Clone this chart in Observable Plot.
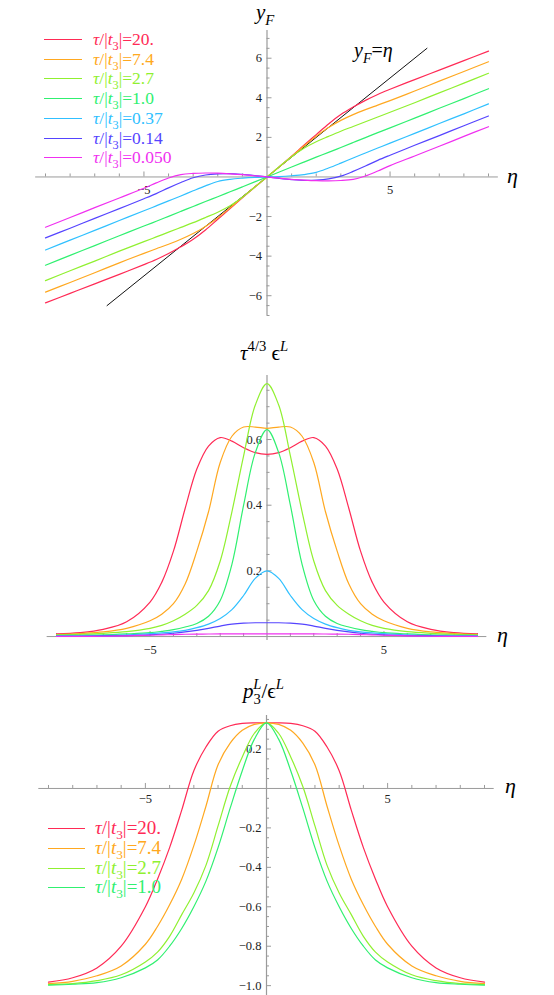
<!DOCTYPE html>
<html><head><meta charset="utf-8">
<script src="https://cdn.jsdelivr.net/npm/d3@7"></script>
<script src="https://cdn.jsdelivr.net/npm/@observablehq/plot@0.6"></script>
<style>
body{margin:0;background:#fff;}
#root{position:relative;width:554px;height:995px;overflow:hidden;background:#fff;font-family:"Liberation Serif",serif;}
</style></head><body><div id="root"></div>
<script>
// eta grid
const eta = [-9,-8,-7,-6,-5,-4.5,-4,-3.5,-3,-2.5,-2,-1.5,-1,-0.5,0,0.5,1,1.5,2,2.5,3,3.5,4,4.5,5,6,7,8,9];

// series labels (tau/|t3|) and colours
const seriesNames = ["20.", "7.4", "2.7", "1.0", "0.37", "0.14", "0.050"];
const seriesColors = ["#ff2a55", "#ffa820", "#90f030", "#30f070", "#30c0ff", "#5544ff", "#f030f0"];

// Panel 1: y_F(eta)
const yF_20   = [-6.36,-5.88,-5.4,-4.92,-4.43,-4.17,-3.87,-3.53,-3.15,-2.68,-2.14,-1.6,-1.05,-0.52,0,0.52,1.05,1.6,2.14,2.68,3.15,3.53,3.87,4.17,4.43,4.92,5.4,5.88,6.36];
const yF_7_4  = [-5.82,-5.33,-4.84,-4.34,-3.86,-3.63,-3.4,-3.15,-2.86,-2.5,-2.06,-1.56,-1.03,-0.51,0,0.51,1.03,1.56,2.06,2.5,2.86,3.15,3.4,3.63,3.86,4.34,4.84,5.33,5.82];
const yF_2_7  = [-5.24,-4.74,-4.25,-3.75,-3.27,-3.03,-2.79,-2.55,-2.31,-2.05,-1.78,-1.45,-1.02,-0.52,0,0.52,1.02,1.45,1.78,2.05,2.31,2.55,2.79,3.03,3.27,3.75,4.25,4.74,5.24];
const yF_1_0  = [-4.46,-3.96,-3.47,-2.97,-2.48,-2.24,-1.99,-1.74,-1.49,-1.24,-1.0,-0.75,-0.5,-0.25,0,0.25,0.5,0.75,1.0,1.24,1.49,1.74,1.99,2.24,2.48,2.97,3.47,3.96,4.46];
const yF_0_37 = [-3.69,-3.19,-2.7,-2.2,-1.71,-1.46,-1.21,-0.96,-0.7,-0.45,-0.23,-0.12,-0.06,-0.02,0,0.02,0.06,0.12,0.23,0.45,0.7,0.96,1.21,1.46,1.71,2.2,2.7,3.19,3.69];
const yF_0_14 = [-3.08,-2.59,-2.09,-1.6,-1.1,-0.84,-0.55,-0.28,-0.04,0.1,0.16,0.17,0.13,0.07,0,-0.07,-0.13,-0.17,-0.16,-0.1,0.04,0.28,0.55,0.84,1.1,1.6,2.09,2.59,3.08];
const yF_0_05 = [-2.54,-2.05,-1.55,-1.06,-0.57,-0.3,-0.05,0.12,0.18,0.2,0.19,0.16,0.12,0.06,0,-0.06,-0.12,-0.16,-0.19,-0.2,-0.18,-0.12,0.05,0.3,0.57,1.06,1.55,2.05,2.54];
const diagEta = [-6.5, 6.5];   // the line y_F = eta

// Panel 2: tau^{4/3} eps^L
const eps_20   = [0.008,0.012,0.022,0.045,0.105,0.165,0.26,0.39,0.51,0.58,0.606,0.595,0.575,0.56,0.555,0.56,0.575,0.595,0.606,0.58,0.51,0.39,0.26,0.165,0.105,0.045,0.022,0.012,0.008];
const eps_7_4  = [0.006,0.009,0.014,0.025,0.048,0.068,0.1,0.16,0.26,0.38,0.53,0.61,0.638,0.638,0.634,0.638,0.638,0.61,0.53,0.38,0.26,0.16,0.1,0.068,0.048,0.025,0.014,0.009,0.006];
const eps_2_7  = [0.005,0.007,0.01,0.015,0.025,0.034,0.048,0.068,0.095,0.14,0.23,0.38,0.55,0.705,0.77,0.705,0.55,0.38,0.23,0.14,0.095,0.068,0.048,0.034,0.025,0.015,0.01,0.007,0.005];
const eps_1_0  = [0.003,0.004,0.005,0.008,0.012,0.016,0.021,0.029,0.04,0.062,0.11,0.22,0.4,0.56,0.63,0.56,0.4,0.22,0.11,0.062,0.04,0.029,0.021,0.016,0.012,0.008,0.005,0.004,0.003];
const eps_0_37 = [0.002,0.002,0.003,0.005,0.009,0.011,0.014,0.019,0.027,0.038,0.055,0.082,0.125,0.177,0.2,0.177,0.125,0.082,0.055,0.038,0.027,0.019,0.014,0.011,0.009,0.005,0.003,0.002,0.002];
const eps_0_14 = [0.001,0.001,0.002,0.003,0.005,0.007,0.01,0.014,0.019,0.025,0.032,0.038,0.041,0.042,0.042,0.042,0.041,0.038,0.032,0.025,0.019,0.014,0.01,0.007,0.005,0.003,0.002,0.001,0.001];
const eps_0_05 = [0.0004,0.0006,0.001,0.002,0.004,0.005,0.006,0.007,0.0075,0.0078,0.008,0.008,0.008,0.008,0.008,0.008,0.008,0.008,0.008,0.0078,0.0075,0.007,0.006,0.005,0.004,0.002,0.001,0.0006,0.0004];

// Panel 3: p3^L / eps^L
const p3_20  = [-0.982,-0.96,-0.91,-0.8,-0.6,-0.46,-0.3,-0.11,0.09,0.21,0.29,0.318,0.33,0.333,0.333,0.333,0.33,0.318,0.29,0.21,0.09,-0.11,-0.3,-0.46,-0.6,-0.8,-0.91,-0.96,-0.982];
const p3_7_4 = [-0.99,-0.978,-0.95,-0.9,-0.79,-0.7,-0.59,-0.46,-0.29,-0.09,0.12,0.23,0.295,0.325,0.333,0.325,0.295,0.23,0.12,-0.09,-0.29,-0.46,-0.59,-0.7,-0.79,-0.9,-0.95,-0.978,-0.99];
const p3_2_7 = [-0.995,-0.99,-0.975,-0.945,-0.88,-0.83,-0.75,-0.64,-0.53,-0.39,-0.19,0.01,0.16,0.28,0.333,0.28,0.16,0.01,-0.19,-0.39,-0.53,-0.64,-0.75,-0.83,-0.88,-0.945,-0.975,-0.99,-0.995];
const p3_1_0 = [-0.997,-0.993,-0.985,-0.96,-0.91,-0.87,-0.8,-0.71,-0.6,-0.47,-0.3,-0.1,0.09,0.25,0.333,0.25,0.09,-0.1,-0.3,-0.47,-0.6,-0.71,-0.8,-0.87,-0.91,-0.96,-0.985,-0.993,-0.997];

// tick values
const xMajorTicks = [-5, 5];
const y1Ticks = [-6, -4, -2, 2, 4, 6];
const y2Ticks = [0.2, 0.4, 0.6];
const y3Ticks = [-1.0, -0.8, -0.6, -0.4, -0.2, 0.2];

const FONT = '"Liberation Serif", serif';
const AXIS = "#9a9a9a";
const xMinorTicks = d3.range(-9, 10).filter(d => d !== 0 && Math.abs(d) !== 5);

function makePanel(cfg) {
  const {series, yDomain, height, ml, mr, mt, mb, yMajor, yMinor, yFmt, xdy, extra = []} = cfg;
  const width = 554;
  const pxY = (height - mt - mb) / (yDomain[1] - yDomain[0]);
  const pxX = (width - ml - mr) / 18;
  const rows = [];
  series.forEach(s => eta.forEach((e, j) => rows.push({eta: e, v: s.values[j], k: s.name})));
  const svg = Plot.plot({
    width, height, marginLeft: ml, marginRight: mr, marginTop: mt, marginBottom: mb,
    x: {domain: [-9, 9], axis: null},
    y: {domain: yDomain, axis: null},
    color: {domain: seriesNames, range: seriesColors},
    style: {fontFamily: FONT, fontSize: "12.5px", background: "none", overflow: "visible"},
    marks: [
      Plot.ruleY([0], {x1: -9.4, x2: 9.4, stroke: AXIS, strokeWidth: 1}),
      Plot.ruleX([0], {y1: yDomain[0], y2: yDomain[1], stroke: AXIS, strokeWidth: 1.2}),
      Plot.ruleX(xMinorTicks, {x: d => d, y1: 0, y2: 3 / pxY, stroke: AXIS}),
      Plot.ruleX(xMajorTicks, {x: d => d, y1: 0, y2: 5 / pxY, stroke: AXIS}),
      Plot.ruleY(yMinor, {y: d => d, x1: 0, x2: 3 / pxX, stroke: AXIS}),
      Plot.ruleY(yMajor, {y: d => d, x1: 0, x2: 5 / pxX, stroke: AXIS}),
      Plot.text(xMajorTicks, {x: d => d, y: 0, dy: xdy, text: d => d3.format("")(d), fill: "#222", fontFamily: FONT}),
      Plot.text(yMajor, {x: 0, y: d => d, dx: -5, textAnchor: "end", text: yFmt, fill: "#222", fontFamily: FONT}),
      ...extra,
      Plot.line(rows, {x: "eta", y: "v", z: "k", stroke: "k", strokeWidth: 1.2, curve: "catmull-rom"})
    ]
  });
  svg.style.position = "absolute";
  svg.style.left = "0px";
  svg.style.top = cfg.top + "px";
  return svg;
}

const root = document.getElementById("root");

root.appendChild(makePanel({
  top: 0, height: 330, ml: 45, mr: 66, mt: 30, mb: 15, yDomain: [-7, 7.4], xdy: 13,
  yMajor: y1Ticks, yMinor: d3.range(-7, 7.01, 0.5).filter(d => d !== 0 && !y1Ticks.includes(d)),
  yFmt: d => d3.format("")(d),
  series: [
    {name: "20.", values: yF_20}, {name: "7.4", values: yF_7_4}, {name: "2.7", values: yF_2_7},
    {name: "1.0", values: yF_1_0}, {name: "0.37", values: yF_0_37}, {name: "0.14", values: yF_0_14},
    {name: "0.050", values: yF_0_05}
  ],
  extra: [Plot.line(diagEta, {x: d => d, y: d => d, stroke: "#111", strokeWidth: 1})]
}));

root.appendChild(makePanel({
  top: 330, height: 330, ml: 56, mr: 77, mt: 45, mb: 20, yDomain: [-0.012, 0.795], xdy: 13,
  yMajor: y2Ticks, yMinor: d3.range(1, 16).map(i => i * 0.05).filter(d => ![4, 8, 12].includes(Math.round(d * 20))),
  yFmt: d => d3.format(".1f")(d),
  series: [
    {name: "20.", values: eps_20}, {name: "7.4", values: eps_7_4}, {name: "2.7", values: eps_2_7},
    {name: "1.0", values: eps_1_0}, {name: "0.37", values: eps_0_37}, {name: "0.14", values: eps_0_14},
    {name: "0.050", values: eps_0_05}
  ]
}));

root.appendChild(makePanel({
  top: 660, height: 335, ml: 48, mr: 70, mt: 55, mb: 0, yDomain: [-1.05, 0.37], xdy: 11,
  yMajor: y3Ticks, yMinor: d3.range(-21, 8).map(i => i * 0.05).filter(d => Math.round(d * 20) % 4 !== 0),
  yFmt: d => d3.format(".1f")(d),
  series: [
    {name: "20.", values: p3_20}, {name: "7.4", values: p3_7_4}, {name: "2.7", values: p3_2_7},
    {name: "1.0", values: p3_1_0}
  ]
}));

// overlay: titles, axis labels, legends
const ov = d3.select(root).append("svg")
  .attr("width", 554).attr("height", 995)
  .style("position", "absolute").style("left", "0px").style("top", "0px")
  .style("pointer-events", "none")
  .style("font-family", FONT);

function rich(x, y, parts, size, fill) {
  const t = ov.append("text").attr("x", x).attr("y", y)
    .style("font-size", size + "px").attr("fill", fill).style("font-family", FONT);
  let shift = 0;
  parts.forEach(p => {
    const target = p.sub ? 0.28 * size : p.sup ? -0.42 * size : 0;
    const ts = t.append("tspan").text(p.t).attr("dy", target - shift);
    if (p.dx) ts.attr("dx", p.dx);
    shift = target;
    if (p.it) ts.style("font-style", "italic");
    if (p.sub || p.sup) ts.style("font-size", (size * 0.7) + "px");
  });
  return t;
}

// panel 1 labels
rich(256, 19, [{t: "y", it: 1}, {t: "F", it: 1, sub: 1}], 21, "#000");
rich(354, 57, [{t: "y", it: 1}, {t: "F", it: 1, sub: 1}, {t: "="}, {t: "η", it: 1}], 20, "#000");
rich(507, 183, [{t: "η", it: 1}], 22, "#000");
// panel 2 labels
rich(240, 360, [{t: "τ", it: 1}, {t: "4/3", sup: 1}, {t: " ϵ"}, {t: "L", it: 1, sup: 1}], 21, "#000");
rich(497, 642, [{t: "η", it: 1}], 22, "#000");
// panel 3 labels
rich(243, 698, [{t: "p", it: 1}, {t: "3", sub: 1}, {t: "L", it: 1, sup: 1, dx: -7.5}, {t: "/ϵ"}, {t: "L", it: 1, sup: 1}], 21, "#000");
rich(505, 793, [{t: "η", it: 1}], 22, "#000");

function legend(x0, x1, xt, y0, step, n, size) {
  for (let i = 0; i < n; i++) {
    const y = Math.round(y0 + i * step) + 0.5;
    ov.append("line").attr("x1", x0).attr("x2", x1).attr("y1", y).attr("y2", y)
      .attr("stroke", seriesColors[i]).attr("stroke-width", 1.2);
    rich(xt, y + 5.5, [{t: "τ", it: 1}, {t: "/|"}, {t: "t", it: 1}, {t: "3", sub: 1}, {t: "|=" + seriesNames[i]}], size, seriesColors[i]);
  }
}
legend(44, 82, 93, 39, 19.7, 7, 17.5);
legend(48, 85, 95, 828, 19.8, 4, 19);
</script></body></html>
